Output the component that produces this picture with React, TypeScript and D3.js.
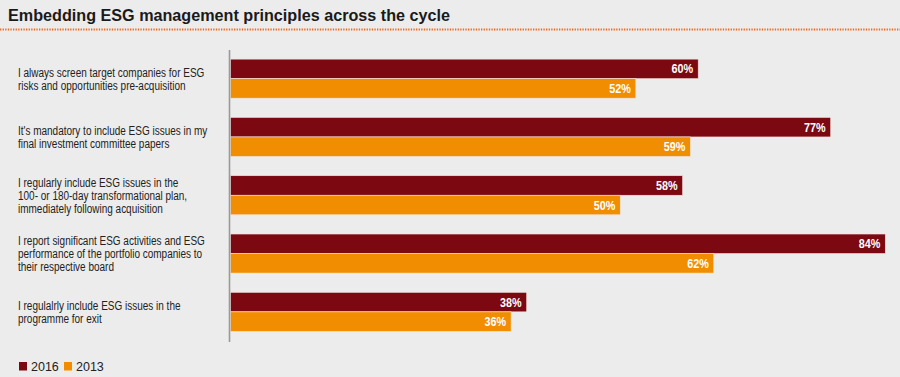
import React from "react";
import * as d3 from "d3";

const categories: string[][] = [
  ["I always screen target companies for ESG", "risks and opportunities pre-acquisition"],
  ["It's mandatory to include ESG issues in my", "final investment committee papers"],
  ["I regularly include ESG issues in the", "100- or 180-day transformational plan,", "immediately following acquisition"],
  ["I report significant ESG activities and ESG", "performance of the portfolio companies to", "their respective board"],
  ["I regulalrly include ESG issues in the", "programme for exit"],
];
const values2016 = [60, 77, 58, 84, 38];
const values2013 = [52, 59, 50, 62, 36];
const seriesNames = ["2016", "2013"];
const title = "Embedding ESG management principles across the cycle";

const W = 900;
const H = 377;
const C2016 = "#7c0812";
const C2013 = "#f18d00";
const BG = "#ececec";
const SANS = "'Liberation Sans', Arial, Helvetica, sans-serif";
const NARROW = 0.74;

export default function App() {
  const x = d3.scaleLinear().domain([0, 100]).range([230.5, 1010]);
  const y = d3
    .scaleBand<number>()
    .domain(d3.range(categories.length))
    .range([49.5, 341])
    .paddingInner(0.33)
    .paddingOuter(0.165);
  const inner = d3.scaleBand<number>().domain([0, 1]).range([0, y.bandwidth()]);
  const series = [values2016, values2013];
  const colors = [C2016, C2013];

  return (
    <svg width={W} height={H} style={{ position: "absolute", left: 0, top: 0, background: BG }}>
      <rect x={0} y={0} width={W} height={H} fill={BG} />
      <text x={8} y={21} fontFamily={SANS} fontWeight="bold" fontSize={17} fill="#1a1a1a" textLength={442} lengthAdjust="spacingAndGlyphs">
        {title}
      </text>
      <line x1={0} x2={W} y1={29.5} y2={29.5} stroke="#ee6a1e" strokeWidth={1.8} strokeDasharray="1.3 1.3" />
      {categories.map((lines, i) => {
        const cy = (y(i) as number) + y.bandwidth() / 2;
        const lh = 13;
        const start = cy - ((lines.length - 1) * lh) / 2;
        return (
          <g key={i}>
            {series.map((vals, s) => {
              const by = (y(i) as number) + (inner(s) as number);
              return (
                <g key={s}>
                  <rect
                    x={x(0)}
                    y={by}
                    width={x(vals[i]) - x(0)}
                    height={inner.bandwidth()}
                    fill={colors[s]}
                    stroke="#f3e6e0"
                    strokeWidth={0.6}
                  />
                  <text
                    transform={`translate(${x(vals[i]) - 5},${by + inner.bandwidth() / 2 + 4.6}) scale(0.8,1)`}
                    textAnchor="end"
                    fontFamily={SANS}
                    fontWeight="bold"
                    fontSize={13.5}
                    fill="#ffffff"
                  >
                    {vals[i]}%
                  </text>
                </g>
              );
            })}
            {lines.map((ln, j) => (
              <text
                key={j}
                transform={`translate(18,${start + j * lh + 4.8}) scale(${NARROW},1)`}
                fontFamily={SANS}
                fontSize={13.5}
                fill="#222"
              >
                {ln}
              </text>
            ))}
          </g>
        );
      })}
      <line x1={229.5} x2={229.5} y1={50} y2={342} stroke="#9a9a9a" strokeWidth={1.6} />
      {seriesNames.map((n, i) => (
        <g key={n} transform={`translate(${19 + i * 45},0)`}>
          <rect x={0} y={362} width={8} height={8.5} fill={colors[i]} />
          <text x={12} y={371} fontFamily={SANS} fontSize={12.5} fill="#222">
            {n}
          </text>
        </g>
      ))}
    </svg>
  );
}
